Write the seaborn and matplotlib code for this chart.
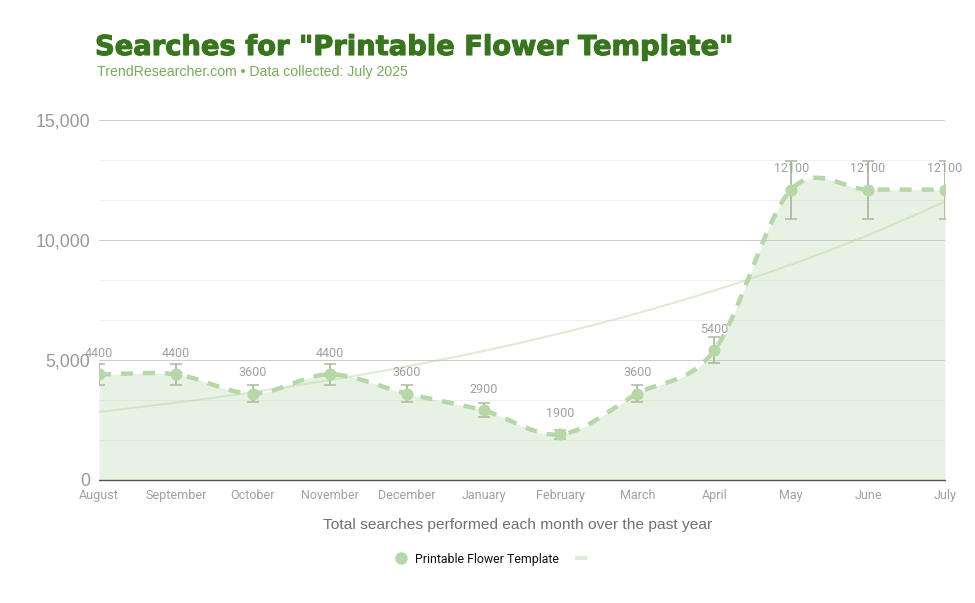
import numpy as np
import pandas as pd
import matplotlib
matplotlib.use("Agg")
import matplotlib.pyplot as plt
import matplotlib.patheffects as pe
from matplotlib.lines import Line2D
import seaborn as sns

months = ["August", "September", "October", "November", "December", "January",
          "February", "March", "April", "May", "June", "July"]
searches = [4400, 4400, 3600, 4400, 3600, 2900, 1900, 3600, 5400, 12100, 12100, 12100]
errors = [440, 440, 360, 440, 360, 290, 190, 360, 540, 1210, 1210, 1210]
trendline = [2833, 3220, 3660, 4161, 4730, 5377, 6112, 6947, 7897, 8977, 10204, 11600]
series_name = "Printable Flower Template"
y_major = [0, 5000, 10000, 15000]
y_minor = [1667, 3333, 6667, 8333, 11667, 13333]

GREEN = "#b6d7a8"
W, H = 975, 603

sns.set_theme(style="white")
plt.rcParams["font.family"] = ["Roboto", "DejaVu Sans"]

fig = plt.figure(figsize=(W / 100, H / 100), dpi=100, facecolor="white")
ax = fig.add_axes([99 / W, 1 - 480 / H, (945 - 99) / W, 360 / H])

x = np.arange(len(months), dtype=float)


def smooth(values):
    """Bezier segments through the values, with Catmull-Rom tangents."""
    v = np.asarray(values, dtype=float)
    tang = np.gradient(v)
    px, py = [], []
    for i in range(len(v) - 1):
        t = np.linspace(0, 1, 40, endpoint=i == len(v) - 2)
        p0, p3 = v[i], v[i + 1]
        p1, p2 = p0 + tang[i] / 3, p3 - tang[i + 1] / 3
        py.append((1 - t) ** 3 * p0 + 3 * t * (1 - t) ** 2 * p1
                  + 3 * t ** 2 * (1 - t) * p2 + t ** 3 * p3)
        px.append(x[i] + t)
    return np.concatenate(px), np.concatenate(py)


xs, ys = smooth(searches)
_, trend = smooth(trendline)

ax.set_xlim(0, len(months) - 1)
ax.set_ylim(0, 15000)

for v in y_minor:
    ax.axhline(v, color="#f0f0f0", lw=0.75, zorder=1)
for v in y_major[1:]:
    ax.axhline(v, color="#cccccc", lw=0.75, zorder=1)

ax.fill_between(xs, 0, ys, color=GREEN, alpha=0.3, lw=0, zorder=2)
sns.lineplot(x=xs, y=trend, ax=ax, color=GREEN, alpha=0.45, lw=1.5, sort=False,
             errorbar=None, legend=False, zorder=3)
sns.lineplot(x=xs, y=ys, ax=ax, color=GREEN, lw=3.2, sort=False, errorbar=None,
             legend=False, linestyle=(0, (2.7, 2.25)), zorder=4)
ax.errorbar(x, searches, yerr=errors, fmt="none", ecolor="#a9bb9f", elinewidth=1.3,
            capsize=4.3, capthick=1.1, zorder=5)
sns.scatterplot(x=x, y=searches, ax=ax, color=GREEN, s=76, linewidth=0, legend=False, zorder=6)

ax.axhline(0, color="#4a5a44", lw=1.0, zorder=7, clip_on=False)

for xi, yi, val in zip(x, searches, searches):
    ax.annotate(str(val), (xi, yi), xytext=(0, 15.2), textcoords="offset points",
                ha="center", va="center", fontsize=9.0, color="#a0a0a0", zorder=8,
                annotation_clip=False)

ax.set_xticks(x)
ax.set_xticklabels(months, fontsize=9.0, color="#a0a0a0")
ax.set_yticks(y_major)
ax.set_yticklabels([f"{v:,}" for v in y_major], fontsize=12.7, color="#999999",
                   family=["Liberation Sans"])
ax.tick_params(axis="x", length=0, pad=6.5)
ax.tick_params(axis="y", length=0, pad=6.5)
for s in ax.spines.values():
    s.set_visible(False)
ax.set_xlabel("")
ax.set_ylabel("")

fig.text(95 / W, 1 - 55 / H, 'Searches for "Printable Flower Template"', fontsize=19.7,
         fontweight="bold", family=["DejaVu Sans"], color="#38761d", ha="left", va="baseline",
         path_effects=[pe.withStroke(linewidth=0.8, foreground="#38761d")])
fig.text(97 / W, 1 - 76 / H, "TrendResearcher.com • Data collected: July 2025", fontsize=10.2,
         family=["Liberation Sans"], color="#74ae5b", ha="left", va="baseline")
fig.text(517.5 / W, 1 - 525 / H, "Total searches performed each month over the past year",
         fontsize=11.15, family=["Liberation Sans"], color="#707070", ha="center", va="center")

handles = [Line2D([], [], marker="o", ls="none", color=GREEN, ms=9, mew=0),
           Line2D([], [], color=GREEN, alpha=0.45, lw=2.9, solid_capstyle="butt")]
leg = fig.legend(handles, [series_name, ""], ncol=2, frameon=False, loc="center",
                 bbox_to_anchor=(495 / W, 1 - 559 / H), fontsize=8.9, handlelength=1.0,
                 handletextpad=0.65, columnspacing=1.3, labelcolor="#111111")

fig.savefig("out.png", dpi=100)
